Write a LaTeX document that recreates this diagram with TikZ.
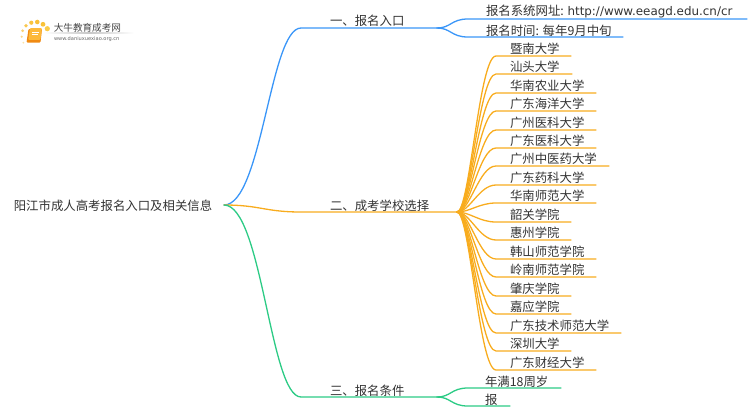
\documentclass[tikz,border=0pt]{standalone}
\usepackage{fontspec}
\setmainfont{Noto Sans CJK SC}
\newfontfamily\latinf{DejaVu Sans}
\definecolor{bl}{HTML}{3A96F8}
\definecolor{og}{HTML}{F8AC1E}
\definecolor{gr}{HTML}{2CCB85}
\definecolor{tx}{HTML}{333333}
\definecolor{bookd}{HTML}{F08A12}
\definecolor{bookl}{HTML}{FDB93A}
\definecolor{brandc}{HTML}{444444}
\definecolor{sitec}{HTML}{666666}
\tikzset{
 every node/.style={inner sep=0pt,outer sep=0pt,text=tx},
 lab/.style={anchor=west,font=\fontsize{12.4pt}{14pt}\selectfont},
 lnk/.style={line width=1.3pt,line cap=round},
}
\begin{document}
\begin{tikzpicture}[x=1pt,y=-1pt]
\useasboundingbox (0,0) rectangle (750,410);
% logo
\foreach \n/\x/\y/\r/\c in {a/23.3/42.7/1.0/FBE3A8,b/21.7/36.7/1.2/FAD888,c/22.7/30.7/1.5/FAD070,d/26/25.7/1.8/F9C850,e/31.3/22.7/2.1/F9C440,f/37.3/22/2.3/F9C038,g/43/24.3/2.4/F9C238,h/47.3/28.7/2.6/FACB48}
 {\definecolor{tmpc}{HTML}{\c}\fill[tmpc] (\x,\y) circle (\r);}
\fill[rounded corners=1pt,bookd] (28.5,29) -- (42,29) -- (40.5,42.5) -- (26.5,42.5) -- cycle;
\fill[rounded corners=.8pt,bookl] (30,28.2) -- (42,28.2) -- (40.3,39.8) -- (28.3,39.8) -- cycle;
\draw[white,line width=.5pt] (32,32) -- (38.5,32) (31.6,34.5) -- (38.2,34.5);
\node[anchor=west,font=\fontsize{9.6pt}{11pt}\selectfont,text=brandc] (brand) at (53.8,27.5) {大牛教育成考网};
\shade[left color=white,right color=white,middle color=black!22] (44,32.8) rectangle (134,33.6);
\node[anchor=west,font=\latinf\fontsize{5.1pt}{6pt}\selectfont,text=sitec] (site) at (54,39) {www.daniuxuexiao.org.cn};
% root
\node[lab] (root) at (13.8,206) {阳江市成人高考报名入口及相关信息};
\coordinate (rf) at (224,205);
% level 1
\coordinate (b1s) at (301,28); \coordinate (b1e) at (437,28);
\coordinate (b2s) at (301,212); \coordinate (b2e) at (457,212);
\coordinate (b3s) at (301,397); \coordinate (b3e) at (437,397);
\node[lab] (n1) at (330,21) {一、报名入口};
\node[lab] (n2) at (330,206) {二、成考学校选择};
\node[lab] (n3) at (330,391) {三、报名条件};
\draw[lnk,bl] (rf) .. controls (262,205) and (270,28) .. (b1s) -- (b1e);
\draw[lnk,og] (rf) .. controls (260,205) and (265,212) .. (b2s) -- (b2e);
\draw[lnk,gr] (rf) .. controls (262,205) and (270,397) .. (b3s) -- (b3e);
% blue leaves
\node[lab] (u1) at (486,12) {报名系统网址: {\latinf\fontsize{11.9pt}{14pt}\selectfont http://www.eeagd.edu.cn/cr}};
\node[lab] (u2) at (486,31) {报名时间: 每年9月中旬};
\coordinate (u1a) at (468,19); \coordinate (u1b) at (747,19);
\coordinate (u2a) at (468,37); \coordinate (u2b) at (623,37);
\draw[lnk,bl] (b1e) .. controls (451,28) and (451,19) .. (u1a) -- (u1b);
\draw[lnk,bl] (b1e) .. controls (451,28) and (451,37) .. (u2a) -- (u2b);
% orange leaves
\foreach \i/\y/\e/\t in {
 1/56/571/暨南大学,2/74/572/汕头大学,3/93/596/华南农业大学,4/111/596/广东海洋大学,
 5/130/596/广州医科大学,6/148/596/广东医科大学,7/166/609/广州中医药大学,8/185/596/广东药科大学,
 9/203/596/华南师范大学,10/222/571/韶关学院,11/240/571/惠州学院,12/259/596/韩山师范学院,
 13/277/596/岭南师范学院,14/296/571/肇庆学院,15/314/571/嘉应学院,16/333/621/广东技术师范大学,
 17/351/571/深圳大学,18/370/596/广东财经大学}{
 \node[lab] (s\i) at (510,\y-7) {\t};
 \coordinate (sa\i) at (496,\y); \coordinate (sb\i) at (\e,\y);
 \draw[lnk,og] (b2e) .. controls (470,212) and (479,\y) .. (sa\i) -- (sb\i);
}
% green leaves
\node[lab] (g1) at (485,381.5) {年满18周岁};
\node[lab] (g2) at (485,400) {报};
\coordinate (g1a) at (468,388); \coordinate (g1b) at (561,388);
\coordinate (g2a) at (468,406); \coordinate (g2b) at (510,406);
\draw[lnk,gr] (b3e) .. controls (451,397) and (451,388) .. (g1a) -- (g1b);
\draw[lnk,gr] (b3e) .. controls (451,397) and (451,406) .. (g2a) -- (g2b);
\end{tikzpicture}
\end{document}
